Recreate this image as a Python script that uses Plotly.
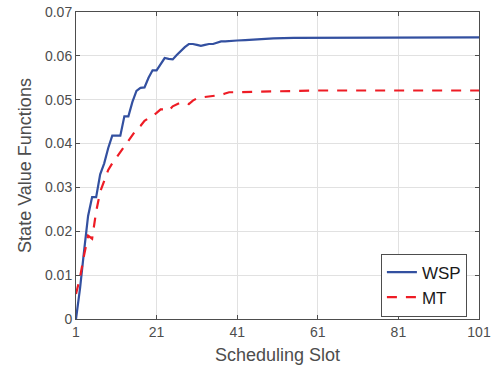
import plotly.graph_objects as go

# Scheduling slots and state value functions for each policy
wsp_slots = [1, 2, 3, 4, 5, 6, 7, 8, 9, 10, 11, 12, 13, 14, 15, 16, 17, 18, 19, 20,
             21, 22, 23, 24, 25, 26, 27, 28, 29, 30, 31, 32, 33, 34, 35, 36, 37, 38,
             39, 40, 41, 43, 46, 50, 55, 61, 71, 81, 101]
wsp_values = [0.0, 0.007, 0.0155, 0.0235, 0.0278, 0.0278, 0.033, 0.0355, 0.039, 0.0418,
              0.0418, 0.0418, 0.0462, 0.0462, 0.0495, 0.052, 0.0527, 0.0528, 0.055, 0.0567,
              0.0567, 0.058, 0.0595, 0.0593, 0.0592, 0.0602, 0.0612, 0.062, 0.0627, 0.0627,
              0.0625, 0.0623, 0.0625, 0.0627, 0.0627, 0.063, 0.0633, 0.0633, 0.0634, 0.0635,
              0.0635, 0.0636, 0.0638, 0.064, 0.0641, 0.0641, 0.0642, 0.0642, 0.0642]

mt_slots = [1, 2, 3, 4, 5, 6, 7, 8, 9, 10, 11, 12, 13, 14, 15, 16, 17, 18, 19, 20,
            21, 22, 23, 24, 25, 26, 27, 28, 29, 30, 31, 32, 33, 34, 35, 36, 37, 38,
            39, 40, 41, 45, 50, 55, 61, 71, 101]
mt_values = [0.0057, 0.0095, 0.0145, 0.019, 0.0183, 0.0245, 0.029, 0.0315, 0.034, 0.0355,
             0.0368, 0.038, 0.0393, 0.0405, 0.042, 0.0432, 0.044, 0.0452, 0.0458, 0.0463,
             0.047, 0.0478, 0.0478, 0.0475, 0.0485, 0.049, 0.0494, 0.0492, 0.049, 0.0498,
             0.0503, 0.0505, 0.0506, 0.0507, 0.0508, 0.0509, 0.0511, 0.0514, 0.0517, 0.0517,
             0.0517, 0.0518, 0.0519, 0.052, 0.0521, 0.0521, 0.0521]

x_ticks = [1, 21, 41, 61, 81, 101]
y_ticks = [0, 0.01, 0.02, 0.03, 0.04, 0.05, 0.06, 0.07]
y_tick_labels = ["0", "0.01", "0.02", "0.03", "0.04", "0.05", "0.06", "0.07"]

axis_color = "#4d4d4d"
font_family = "Liberation Sans, Arial, sans-serif"

fig = go.Figure()
fig.add_trace(go.Scatter(
    x=wsp_slots, y=wsp_values, mode="lines", name="WSP",
    line=dict(color="#3350a0", width=2.2),
))
fig.add_trace(go.Scatter(
    x=mt_slots, y=mt_values, mode="lines", name="MT",
    line=dict(color="#ee1c25", width=2.2, dash="10px,9px"),
))

axis_common = dict(
    showline=True, linecolor=axis_color, linewidth=1, mirror="ticks",
    ticks="inside", ticklen=4, tickcolor=axis_color,
    showgrid=True, gridcolor="#e1e1e1", gridwidth=1,
    zeroline=False, ticklabeloverflow="allow", automargin=False,
    tickfont=dict(family=font_family, size=14, color=axis_color),
)

fig.update_xaxes(
    range=[1, 101], tickvals=x_ticks, ticktext=[str(t) for t in x_ticks],
    title=dict(text="Scheduling Slot", standoff=9,
               font=dict(family=font_family, size=18, color=axis_color)),
    **axis_common,
)
fig.update_yaxes(
    range=[0, 0.07], tickvals=y_ticks, ticktext=y_tick_labels,
    title=dict(text="State Value Functions", standoff=8,
               font=dict(family=font_family, size=18, color=axis_color)),
    **axis_common,
)

fig.update_layout(
    width=491, height=369,
    margin=dict(l=76, r=12, t=12, b=50),
    paper_bgcolor="white", plot_bgcolor="white",
    showlegend=True,
    legend=dict(
        x=0.97, y=0.008, xanchor="right", yanchor="bottom",
        bgcolor="white", bordercolor=axis_color, borderwidth=1,
        font=dict(family=font_family, size=17, color="#1a1a1a"),
        tracegroupgap=0, itemwidth=30,
    ),
)

fig.write_html("out.html")
